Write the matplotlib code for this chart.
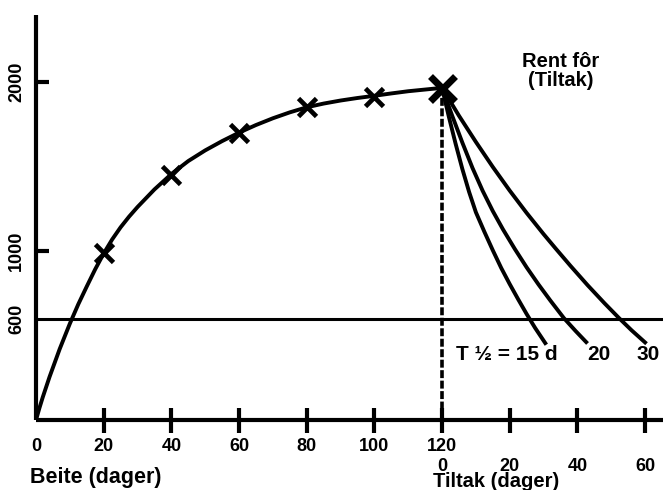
import matplotlib
matplotlib.use('Agg')
import matplotlib.pyplot as plt

plt.rcParams['font.family'] = ['Liberation Sans', 'DejaVu Sans']
plt.rcParams['font.weight'] = 'bold'

# grazing period (Beite), days 0-120
beite_days = [0, 1, 2, 3, 4, 5, 6, 7, 8, 9, 10, 12.5, 15, 17.5, 20, 22.5, 25, 27.5, 30,
              35, 40, 45, 50, 55, 60, 65, 70, 75, 80, 85, 90, 95, 100, 105, 110, 115, 120]
beite_vals = [0, 70, 135, 195, 255, 310, 365, 420, 470, 520, 570, 685, 790, 892, 985, 1068,
              1140, 1203, 1260, 1364, 1455, 1532, 1595, 1650, 1700, 1745, 1785, 1820, 1850,
              1872, 1890, 1905, 1918, 1932, 1945, 1955, 1965]

# measured points (x markers)
mark_days = [20, 40, 60, 80, 100]
mark_vals = [990, 1450, 1700, 1850, 1910]
peak_day, peak_val = 120, 1965

# clean feed after measure (Tiltak), days counted from day 120
t15_days = [0, 2, 4, 6, 8, 10, 12.5, 15, 17.5, 20, 22.5, 25, 27.5, 30.5]
t15_vals = [1965, 1795, 1635, 1485, 1349, 1229, 1114, 1004, 899, 804, 714, 627, 545, 455]
t20_days = [0, 3, 6, 9, 12, 15, 18, 21.5, 25, 28.5, 32, 36, 39.5, 42.6]
t20_vals = [1965, 1800, 1641, 1491, 1356, 1236, 1128, 1012, 903, 802, 707, 603, 526, 461]
t30_days = [0, 5, 10, 15, 20, 25, 30, 33.6, 38, 43, 48, 52.3, 56, 60]
t30_vals = [1965, 1800, 1645, 1497, 1357, 1225, 1100, 1014, 911, 798, 691, 603, 531, 459]

limit = 600

x_ticks = [0, 20, 40, 60, 80, 100, 120, 140, 160, 180]
x_labels = ['0', '20', '40', '60', '80', '100', '120\n0', '\n20', '\n40', '\n60']
y_ticks = [600, 1000, 2000]

fig = plt.figure(figsize=(6.63, 4.90), dpi=100)
ax = fig.add_axes([36 / 663, 70 / 490, 627 / 663, 405 / 490])
ax.set_xlim(0, 185.3)
ax.set_ylim(0, 2396)

for side in ['top', 'right']:
    ax.spines[side].set_visible(False)
for side in ['left', 'bottom']:
    ax.spines[side].set_linewidth(3)
    ax.spines[side].set_capstyle('butt')

lw = 2.8
ax.plot(beite_days, beite_vals, color='black', lw=lw, solid_capstyle='round', zorder=3)
ax.plot(mark_days, mark_vals, ls='none', marker='x', ms=13, mew=3.4, color='black', zorder=4)
ax.plot([peak_day], [peak_val], ls='none', marker='x', ms=18, mew=5, color='black', zorder=4)

for d, v in [(t15_days, t15_vals), (t20_days, t20_vals), (t30_days, t30_vals)]:
    ax.plot([peak_day + x for x in d], v, color='black', lw=lw, zorder=3)

ax.axhline(limit, color='black', lw=2.2, zorder=2)
ax.plot([peak_day, peak_day], [0, peak_val], color='black', lw=2.6,
        dashes=(2.2, 0.7), zorder=2)

ax.set_xticks(x_ticks)
ax.set_xticklabels(x_labels, linespacing=1.25)
ax.tick_params(axis='x', direction='inout', length=18, width=3, pad=4, labelsize=13)
ax.xaxis.get_major_ticks()[0].tick1line.set_visible(False)

ax.set_yticks(y_ticks)
ax.set_yticklabels([str(v) for v in y_ticks], rotation=90, va='center')
ax.tick_params(axis='y', direction='in', length=9, width=3, pad=8, labelsize=13)
ax.yaxis.get_major_ticks()[0].tick1line.set_visible(False)

ax.text(124, 385, 'T ½ = 15 d', fontsize=15, va='center', ha='left')
ax.text(163, 385, '20', fontsize=15, va='center', ha='left')
ax.text(177.5, 385, '30', fontsize=15, va='center', ha='left')
ax.text(155, 2065, 'Rent fôr\n(Tiltak)', fontsize=14.5, ha='center', va='center',
        linespacing=0.95)

fig.text(30 / 663, 1 - 477 / 490, 'Beite (dager)', fontsize=15.5, va='center', ha='left')
fig.text(433 / 663, 1 - 472 / 490, 'Tiltak (dager)', fontsize=14.5, va='top', ha='left')

fig.savefig('out.png', dpi=100)
